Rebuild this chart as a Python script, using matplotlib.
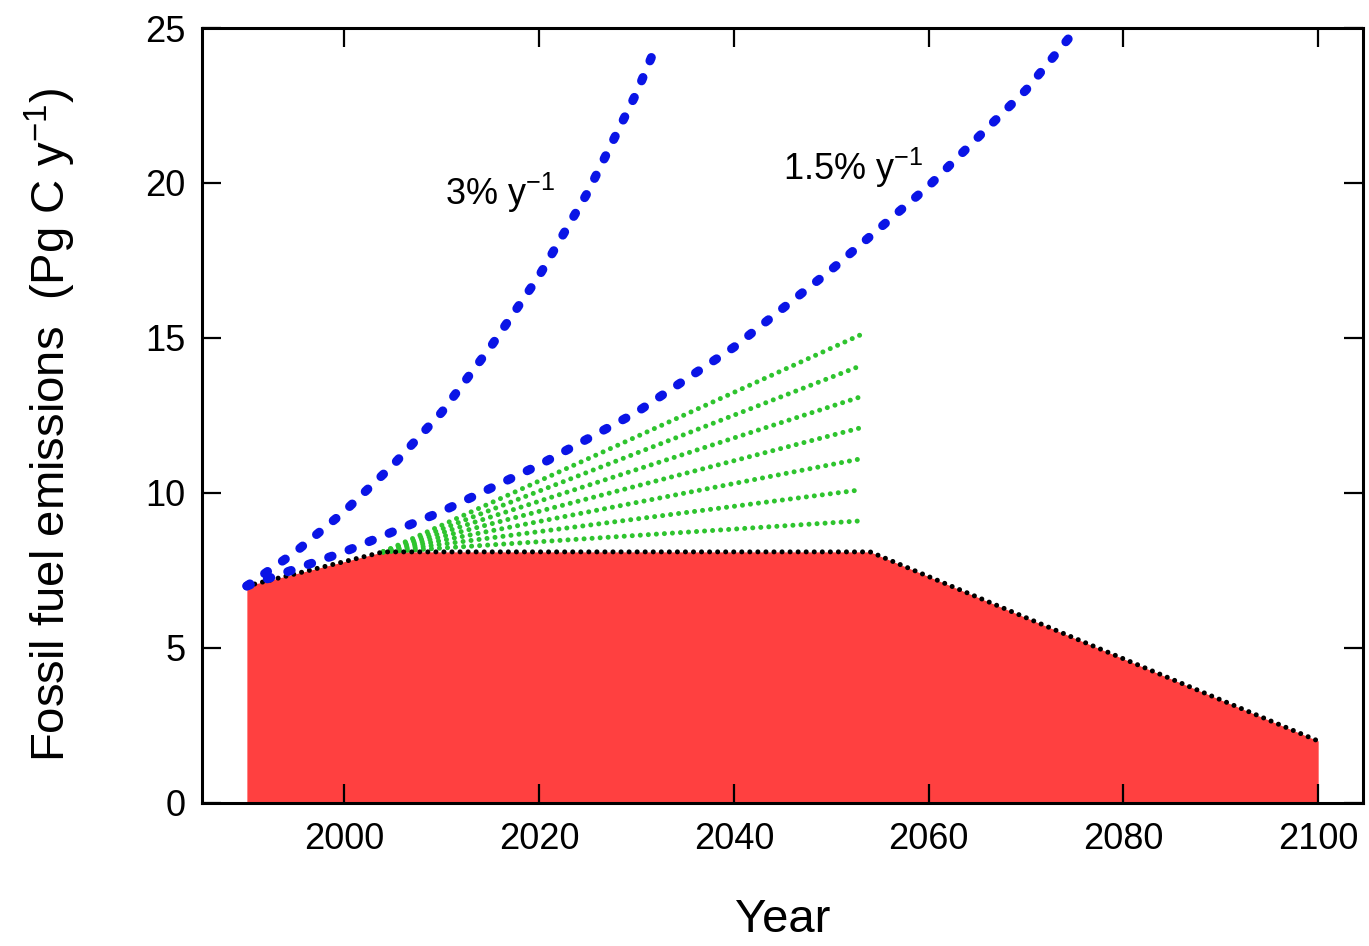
import numpy as np
import matplotlib
matplotlib.use("Agg")
import matplotlib.pyplot as plt

plt.rcParams['font.family'] = ['Liberation Sans', 'DejaVu Sans']
plt.rcParams['mathtext.fontset'] = 'custom'
plt.rcParams['mathtext.rm'] = 'Liberation Sans'
plt.rcParams['mathtext.it'] = 'Liberation Sans'
plt.rcParams['mathtext.default'] = 'regular'

# emission path (red area), Pg C per year
path_years = [1990, 2004, 2054, 2100]
path_values = [7.0, 8.1, 8.1, 2.0]

# exponential growth scenarios
growth3_years = [1990, 1995, 2000, 2005, 2010, 2015, 2020, 2025, 2030, 2032]
growth3_values = [7.0, 8.1, 9.4, 10.9, 12.6, 14.7, 17.0, 19.7, 22.9, 24.4]
growth15_years = [1990, 2000, 2010, 2020, 2030, 2040, 2050, 2060, 2070, 2075]
growth15_values = [7.0, 8.1, 9.4, 10.9, 12.6, 14.7, 17.2, 19.9, 23.0, 24.9]

# green linear fan
fan_years = [2004, 2053]
fan_start = 8.1
fan_ends = [9.1, 10.1, 11.1, 12.1, 13.1, 14.1, 15.1]

xticks = [2000, 2020, 2040, 2060, 2080, 2100]
yticks = [0, 5, 10, 15, 20, 25]

fig = plt.figure(figsize=(13.69, 9.46), dpi=100)
ax = fig.add_axes([0.1476, 0.1512, 0.848, 0.8192])

ax.fill_between(path_years, path_values, 0, color='#ff4040', lw=0, zorder=1)
ax.plot(path_years, path_values, color='black', lw=3.6,
        linestyle=(0, (0.01, 1.6)), dash_capstyle='round', zorder=3)

for end in fan_ends:
    ax.plot(fan_years, [fan_start, end], color='#2ec42e', lw=3.6,
            linestyle=(0, (0.01, 1.6)), dash_capstyle='round', zorder=2)

for yrs, vals in [(growth3_years, growth3_values), (growth15_years, growth15_values)]:
    ax.plot(yrs, vals, color='#0a14e6', lw=6.5, linestyle=(0, (0.4, 2.0)),
            dash_capstyle='round', zorder=4)

ax.text(2010.3, 19.3, '3% y$^{-1}$', fontsize=26, ha='left', va='baseline')
ax.text(2045.1, 20.1, '1.5% y$^{-1}$', fontsize=26, ha='left', va='baseline')

ax.set_xlim(1985.4, 2104.6)
ax.set_ylim(0, 25)
ax.set_xticks(xticks)
ax.set_yticks(yticks)
ax.tick_params(direction='in', length=14, width=1.6, labelsize=26,
               top=True, right=True)
ax.tick_params(axis='x', pad=14)
ax.tick_params(axis='y', pad=12)
for s in ax.spines.values():
    s.set_linewidth(2.2)

fig.text(783 / 1369, 1 - 920 / 946, 'Year', fontsize=34, ha='center', va='center')
fig.text(50 / 1369, 1 - 425 / 946, 'Fossil fuel emissions  (Pg C y$^{-1}$)',
         fontsize=34, rotation=90, ha='center', va='center')

fig.savefig('out.png', dpi=100)
